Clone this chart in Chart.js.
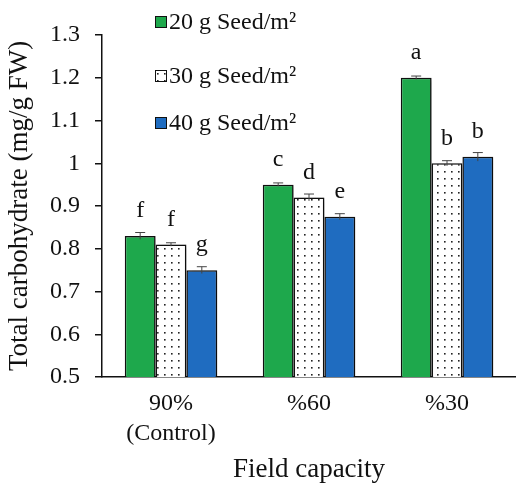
<!DOCTYPE html>
<html>
<head>
<meta charset="utf-8">
<script src="https://cdn.jsdelivr.net/npm/chart.js@4.4.1/dist/chart.umd.min.js"></script>
<style>
    html, body {margin: 0; padding: 0; background: #fff;}
    #wrap {width: 516px; height: 483px;}
</style>
</head>
<body>
<div id="wrap"><canvas id="myCanvas"></canvas></div>
<script>
const categories = [['90%', '(Control)'], '%60', '%30'];
const seriesNames = ['20 g Seed/m²', '30 g Seed/m²', '40 g Seed/m²'];
const seed20 = [0.83, 0.95, 1.20];
const seed30 = [0.81, 0.92, 1.00];
const seed40 = [0.75, 0.875, 1.015];
const err20 = [0.008, 0.004, 0.004];
const err30 = [0.004, 0.008, 0.006];
const err40 = [0.008, 0.007, 0.01];
const letters20 = ['f', 'c', 'a'];
const letters30 = ['f', 'd', 'b'];
const letters40 = ['g', 'e', 'b'];
const yTicks = [0.5, 0.6, 0.7, 0.8, 0.9, 1, 1.1, 1.2, 1.3];

const serif = "'Liberation Serif', 'DejaVu Serif', serif";

// 点状填充
function dotPattern() {
    const c = document.createElement('canvas');
    c.width = 7;
    c.height = 7;
    const g = c.getContext('2d');
    g.fillStyle = '#ffffff';
    g.fillRect(0, 0, 7, 7);
    g.fillStyle = '#222222';
    g.fillRect(3, 3, 1.6, 1.6);
    return g.createPattern(c, 'repeat');
}
const dots = dotPattern();

const errs = [err20, err30, err40];
const letters = [letters20, letters30, letters40];

// 阴影、误差线、字母标注、图例
const extrasPlugin = {
    id: 'extras',
    beforeDatasetsDraw(chart) {
        const ctx = chart.ctx;
        ctx.save();
        ctx.shadowColor = 'rgba(0,0,0,0.35)';
        ctx.shadowOffsetX = 4;
        ctx.shadowOffsetY = 1;
        ctx.shadowBlur = 5;
    },
    afterDatasetsDraw(chart) {
        const ctx = chart.ctx;
        ctx.restore();
        const y = chart.scales.y;
        ctx.save();
        chart.data.datasets.forEach((ds, i) => {
            const meta = chart.getDatasetMeta(i);
            meta.data.forEach((bar, j) => {
                const v = ds.data[j];
                const top = y.getPixelForValue(v + errs[i][j]);
                const bot = y.getPixelForValue(v - errs[i][j]);
                ctx.strokeStyle = '#444';
                ctx.lineWidth = 1;
                ctx.beginPath();
                ctx.moveTo(bar.x, top);
                ctx.lineTo(bar.x, bot);
                ctx.moveTo(bar.x - 5, top);
                ctx.lineTo(bar.x + 5, top);
                ctx.stroke();
                ctx.fillStyle = '#111';
                ctx.font = '24px ' + serif;
                ctx.textAlign = 'center';
                ctx.textBaseline = 'middle';
                ctx.fillText(letters[i][j], bar.x, y.getPixelForValue(v) - 25);
            });
        });
        ctx.restore();
    },
    afterDraw(chart) {
        const ctx = chart.ctx;
        ctx.save();
        ctx.font = '24px ' + serif;
        ctx.textBaseline = 'middle';
        ctx.textAlign = 'left';
        chart.data.datasets.forEach((ds, i) => {
            const cy = [22, 76, 123][i];
            ctx.fillStyle = ds.backgroundColor;
            ctx.fillRect(155, cy - 6, 12, 12);
            ctx.strokeStyle = '#111';
            ctx.lineWidth = 1;
            ctx.strokeRect(155.5, cy - 5.5, 11, 11);
            ctx.fillStyle = '#111';
            ctx.fillText(ds.label, 169, cy + 1);
        });
        ctx.restore();
    }
};

const ctx = document.getElementById('myCanvas');
new Chart(ctx, {
    type: 'bar',
    data: {
        labels: categories,
        datasets: [{
            label: seriesNames[0],
            data: seed20,
            backgroundColor: '#1ea84c',
            borderColor: '#111',
            borderWidth: 1.5
        }, {
            label: seriesNames[1],
            data: seed30,
            backgroundColor: dots,
            borderColor: '#111',
            borderWidth: 1.5
        }, {
            label: seriesNames[2],
            data: seed40,
            backgroundColor: '#1f6cc0',
            borderColor: '#111',
            borderWidth: 1.5
        }]
    },
    options: {
        responsive: true,
        maintainAspectRatio: false,
        animation: false,
        layout: {padding: {top: 35, right: 0, left: 0, bottom: 0}},
        datasets: {bar: {categoryPercentage: 0.67, barPercentage: 1.0}},
        plugins: {
            legend: {display: false},
            tooltip: {enabled: false}
        },
        scales: {
            x: {
                afterFit: axis => {
                    axis.height = 106;
                },
                grid: {display: false, drawTicks: false},
                border: {color: '#111', width: 1.5},
                ticks: {color: '#111', padding: 12, font: {family: serif, size: 24, lineHeight: 1.25}},
                title: {
                    display: true,
                    text: 'Field capacity',
                    color: '#111',
                    font: {family: serif, size: 27},
                    padding: {top: 0, bottom: -3}
                }
            },
            y: {
                min: 0.5,
                max: 1.3,
                afterBuildTicks: axis => {
                    axis.ticks = yTicks.map(v => ({value: v}));
                },
                afterFit: axis => {
                    axis.width = 102;
                },
                grid: {display: true, drawOnChartArea: false, drawTicks: true, tickLength: 7, color: '#111', lineWidth: 1.5},
                border: {color: '#111', width: 1.5},
                ticks: {
                    color: '#111',
                    padding: 15,
                    font: {family: serif, size: 24},
                    callback: v => String(Math.round(v * 10) / 10)
                },
                title: {
                    display: true,
                    text: 'Total carbohydrate (mg/g FW)',
                    color: '#111',
                    font: {family: serif, size: 27},
                    padding: {top: 4, bottom: 0}
                }
            }
        }
    },
    plugins: [extrasPlugin]
});
</script>
</body>
</html>
